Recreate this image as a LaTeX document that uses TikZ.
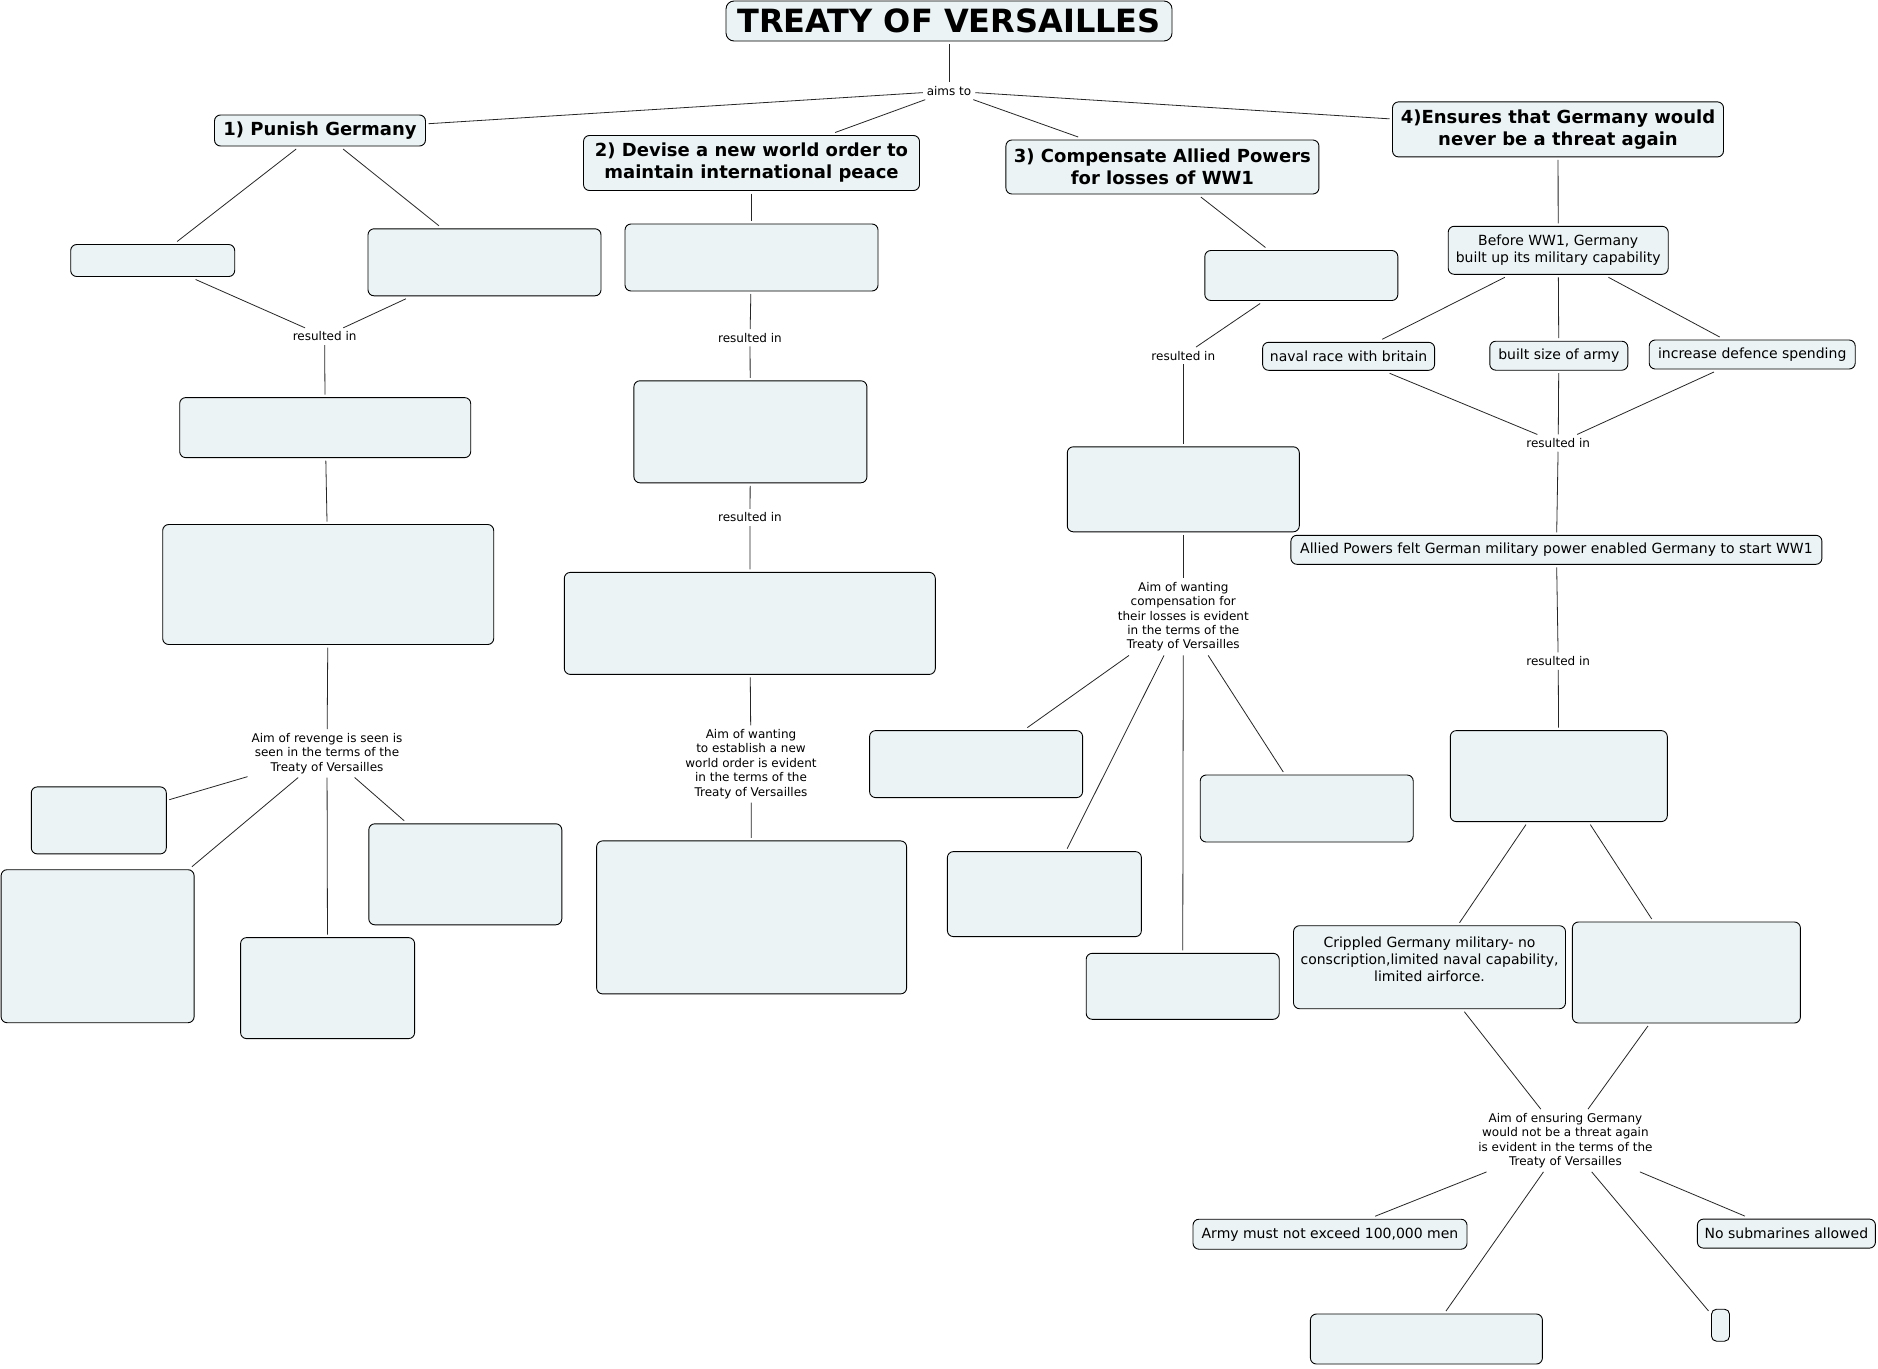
\documentclass[tikz,border=0pt]{standalone}
\usepackage{fontspec}
\setmainfont{DejaVu Sans}
\definecolor{boxfill}{RGB}{236,243,245}
\begin{document}
\begin{tikzpicture}[x=1pt,y=-1pt,
  box/.style={draw=black, line width=0.9pt, fill=boxfill, rounded corners=6pt, outer sep=3pt, inner sep=2pt, align=center, font=\fontsize{14}{17}\selectfont},
  head/.style={box, font=\fontsize{18}{22}\selectfont\bfseries},
  sz/.style 2 args={minimum width=#1pt, minimum height=#2pt},
  lbl/.style={inner sep=2pt, outer sep=2pt, align=center, font=\fontsize{12}{14.4}\selectfont},
  link/.style={draw=black!85, line width=0.8pt}]
\fill[white] (0,0) rectangle (1878,1368);
\useasboundingbox (0,0) rectangle (1878,1368);

% title and aims
\node[box, rounded corners=8pt, sz={446}{40}, font=\fontsize{32}{36}\selectfont\bfseries] (title) at (949,21) {TREATY OF VERSAILLES};
\node[lbl] (aims) at (949,91) {aims to};
\node[head, sz={211}{31}] (punish) at (320,130.5) {1) Punish Germany};
\node[head, sz={336}{55}] (devise) at (751.5,163) {2) Devise a new world order to\\maintain international peace};
\node[head, sz={313}{54}] (comp) at (1162.4,167) {3) Compensate Allied Powers\\for losses of WW1};
\node[head, sz={331}{55}] (ensure) at (1558,129.4) {4)Ensures that Germany would\\never be a threat again};

% branch 1
\node[box, sz={164}{32}] (A) at (152.7,260.5) {};
\node[box, sz={233}{67}] (B) at (484.5,262.3) {};
\node[lbl] (r1) at (324.6,336.5) {resulted in};
\node[box, sz={291}{60}] (C) at (325.2,427.6) {};
\node[box, sz={331}{120}] (D) at (328.2,584.5) {};
\node[lbl] (l2) at (327,753.3) {Aim of revenge is seen is\\seen in the terms of the\\Treaty of Versailles};
\node[box, sz={135}{67}] (E) at (98.8,820.4) {};
\node[box, sz={193}{153}] (F) at (97.6,946.2) {};
\node[box, sz={174}{101}] (G) at (327.6,988.1) {};
\node[box, sz={193}{101}] (H) at (465.3,874.3) {};

% branch 2
\node[box, sz={253}{67}] (I) at (751.5,257.5) {};
\node[lbl] (r2) at (750,337.8) {resulted in};
\node[box, sz={233}{102}] (J) at (750.4,431.8) {};
\node[lbl] (r3) at (750,517.4) {resulted in};
\node[box, sz={371}{102}] (K) at (749.8,623.4) {};
\node[lbl] (l3) at (751,764) {Aim of wanting\\to establish a new\\world order is evident\\in the terms of the\\Treaty of Versailles};
\node[box, sz={310}{153}] (L) at (751.6,917.4) {};

% branch 3
\node[box, sz={193}{50}] (M) at (1301.3,275.5) {};
\node[lbl] (r4) at (1183.3,355.7) {resulted in};
\node[box, sz={232}{85}] (N) at (1183.3,489.3) {};
\node[lbl] (l4) at (1183.3,616.8) {Aim of wanting\\compensation for\\their losses is evident\\in the terms of the\\Treaty of Versailles};
\node[box, sz={213}{67}] (O) at (976.1,764.1) {};
\node[box, sz={194}{85}] (P) at (1044.4,894.1) {};
\node[box, sz={193}{66}] (Q) at (1182.7,986.3) {};
\node[box, sz={213}{67}] (R) at (1306.7,808.5) {};

% branch 4
\node[box, sz={220}{48}] (before) at (1558.2,250.3) {Before WW1, Germany\\built up its military capability};
\node[box, sz={172}{28}] (naval) at (1348.6,356.3) {naval race with britain};
\node[box, sz={138}{29}] (built) at (1558.8,355.7) {built size of army};
\node[box, sz={206}{29}] (incr) at (1752.2,354.5) {increase defence spending};
\node[lbl] (r5) at (1558.2,443.1) {resulted in};
\node[box, sz={531}{29}] (allied) at (1556.4,549.8) {Allied Powers felt German military power enabled Germany to start WW1};
\node[lbl] (r6) at (1558.2,661.1) {resulted in};
\node[box, sz={217}{91}] (S) at (1558.8,776.1) {};
\node[box, sz={272}{83}] (crip) at (1429.5,967.2) {Crippled Germany military- no\\conscription,limited naval capability,\\limited airforce.\\\mbox{}};
\node[box, sz={228}{101}] (T) at (1686.4,972.5) {};
\node[lbl] (l5) at (1565.4,1140.5) {Aim of ensuring Germany\\would not be a threat again\\is evident in the terms of the\\Treaty of Versailles};
\node[box, sz={274}{30}] (army) at (1330,1234.2) {Army must not exceed 100,000 men};
\node[box, sz={178}{29}] (nosub) at (1786.4,1233.6) {No submarines allowed};
\node[box, sz={232}{50}] (U) at (1426.4,1339) {};
\node[box, sz={18}{32}, rounded corners=5pt] (V) at (1720.5,1325.2) {};

% connectors
\draw[link] (title) -- (aims);
\draw[link] (aims) -- (punish);
\draw[link] (aims) -- (devise);
\draw[link] (aims) -- (comp);
\draw[link] (aims) -- (ensure);

\draw[link] (punish) -- (A);
\draw[link] (punish) -- (B);
\draw[link] (A) -- (r1);
\draw[link] (B) -- (r1);
\draw[link] (r1) -- (C);
\draw[link] (C) -- (D);
\draw[link] (D) -- (l2);
\draw[link] (l2) -- (E);
\draw[link] (l2) -- (F);
\draw[link] (l2) -- (G);
\draw[link] (l2) -- (H);

\draw[link] (devise) -- (I);
\draw[link] (I) -- (r2);
\draw[link] (r2) -- (J);
\draw[link] (J) -- (r3);
\draw[link] (r3) -- (K);
\draw[link] (K) -- (l3);
\draw[link] (l3) -- (L);

\draw[link] (comp) -- (M);
\draw[link] (M) -- (r4);
\draw[link] (r4) -- (N);
\draw[link] (N) -- (l4);
\draw[link] (l4) -- (O);
\draw[link] (l4) -- (P);
\draw[link] (l4) -- (Q);
\draw[link] (l4) -- (R);

\draw[link] (ensure) -- (before);
\draw[link] (before) -- (naval);
\draw[link] (before) -- (built);
\draw[link] (before) -- (incr);
\draw[link] (naval) -- (r5);
\draw[link] (built) -- (r5);
\draw[link] (incr) -- (r5);
\draw[link] (r5) -- (allied);
\draw[link] (allied) -- (r6);
\draw[link] (r6) -- (S);
\draw[link] (S) -- (crip);
\draw[link] (S) -- (T);
\draw[link] (crip) -- (l5);
\draw[link] (T) -- (l5);
\draw[link] (l5) -- (army);
\draw[link] (l5) -- (U);
\draw[link] (l5) -- (V);
\draw[link] (l5) -- (nosub);
\end{tikzpicture}
\end{document}
